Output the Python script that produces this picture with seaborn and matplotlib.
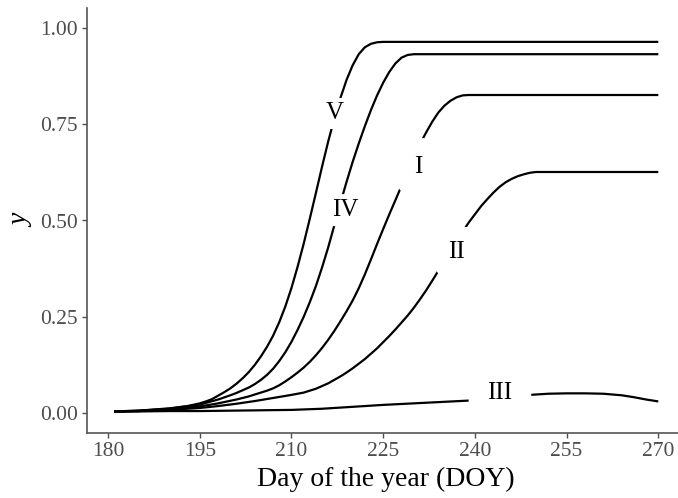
import numpy as np
import pandas as pd
import matplotlib
matplotlib.use("Agg")
import matplotlib.pyplot as plt
import seaborn as sns

# ---- data ----
days_V = [181, 185, 190, 193, 195, 196, 197, 198, 199, 200, 201, 202, 203, 204, 205, 206, 207, 208, 209,
          210, 211, 212, 213, 214, 215, 216, 217, 218, 219, 220, 221, 222, 223, 224, 225, 235, 250, 270]
vals_V = [0.004, 0.006, 0.012, 0.018, 0.025, 0.030, 0.036, 0.045, 0.054, 0.064, 0.076, 0.090, 0.106, 0.125,
          0.147, 0.172, 0.201, 0.236, 0.277, 0.325, 0.380, 0.440, 0.505, 0.572, 0.640, 0.705, 0.765, 0.818,
          0.865, 0.903, 0.932, 0.950, 0.959, 0.963, 0.964, 0.964, 0.964, 0.964]

days_IV = [181, 185, 190, 195, 198, 200, 201, 202, 203, 204, 205, 206, 207, 208, 209, 210, 211, 212, 213,
           214, 215, 216, 217, 218, 219, 220, 221, 222, 223, 224, 225, 226, 227, 228, 229, 230, 240, 255, 270]
vals_IV = [0.004, 0.006, 0.011, 0.022, 0.035, 0.046, 0.052, 0.059, 0.066, 0.075, 0.086, 0.099, 0.115, 0.135,
           0.158, 0.185, 0.216, 0.250, 0.288, 0.330, 0.378, 0.430, 0.487, 0.545, 0.600, 0.652, 0.700, 0.745,
           0.787, 0.825, 0.858, 0.886, 0.908, 0.923, 0.930, 0.932, 0.932, 0.932, 0.932]

days_I = [181, 185, 190, 195, 198, 201, 203, 204, 205, 206, 207, 208, 209, 210, 211, 212, 213, 214, 215, 216,
          217, 218, 219, 220, 221, 222, 223, 224, 225, 226, 227, 228, 229, 230, 231, 232, 233, 234, 235,
          236, 237, 238, 239, 250, 260, 270]
vals_I = [0.004, 0.005, 0.009, 0.017, 0.025, 0.035, 0.043, 0.048, 0.053, 0.058, 0.064, 0.072, 0.082, 0.093,
          0.105, 0.118, 0.133, 0.150, 0.169, 0.190, 0.213, 0.238, 0.264, 0.292, 0.324, 0.360, 0.399, 0.439,
          0.478, 0.516, 0.553, 0.590, 0.628, 0.665, 0.698, 0.728, 0.756, 0.780, 0.798, 0.811, 0.820, 0.825,
          0.826, 0.826, 0.826, 0.826]

days_II = [181, 185, 190, 195, 198, 201, 204, 207, 210, 211, 212, 213, 214, 215, 216, 217, 218, 219, 220,
           221, 222, 223, 224, 225, 226, 227, 228, 229, 230, 231, 232, 233, 234, 235, 236, 237, 238, 239,
           240, 241, 242, 243, 244, 245, 246, 247, 248, 249, 250, 260, 270]
vals_II = [0.004, 0.005, 0.008, 0.013, 0.018, 0.024, 0.031, 0.039, 0.047, 0.050, 0.053, 0.058, 0.063, 0.070,
           0.077, 0.086, 0.095, 0.105, 0.116, 0.128, 0.140, 0.154, 0.168, 0.184, 0.200, 0.217, 0.235, 0.253,
           0.273, 0.295, 0.318, 0.343, 0.369, 0.395, 0.420, 0.446, 0.471, 0.495, 0.516, 0.537, 0.555, 0.572,
           0.587, 0.599, 0.608, 0.615, 0.620, 0.624, 0.626, 0.626, 0.626]

days_III = [181, 185, 190, 195, 200, 205, 210, 215, 220, 225, 230, 235, 240, 243, 246, 249, 252, 255, 258,
            261, 264, 266, 268, 270]
vals_III = [0.004, 0.004, 0.005, 0.005, 0.006, 0.007, 0.008, 0.011, 0.016, 0.021, 0.025, 0.029, 0.033, 0.038,
            0.043, 0.047, 0.050, 0.051, 0.051, 0.050, 0.046, 0.041, 0.035, 0.030]

curve_names = ["V", "IV", "I", "II", "III"]
label_x = [217.1, 218.8, 230.7, 237.0, 244.1]
label_y = [0.778, 0.527, 0.640, 0.419, 0.051]
label_pad = [0.18, 0.2, 0.7, 0.55, 0.75]

x_ticks = [180, 195, 210, 225, 240, 255, 270]
y_ticks = [0.00, 0.25, 0.50, 0.75, 1.00]
y_tick_labels = ["0.00", "0.25", "0.50", "0.75", "1.00"]

# ---- build long table ----
frames = []
for name, d, v in zip(curve_names,
                      [days_V, days_IV, days_I, days_II, days_III],
                      [vals_V, vals_IV, vals_I, vals_II, vals_III]):
    frames.append(pd.DataFrame({"doy": d, "y": v, "curve": name}))
df = pd.concat(frames, ignore_index=True)

sns.set_theme(style="ticks")
plt.rcParams["font.family"] = ["Liberation Serif", "DejaVu Serif"]

fig = plt.figure(figsize=(6.78, 4.98), dpi=100)
# the reference panel runs slightly past the right edge of the image
ax = fig.add_axes([87 / 678, 65 / 498, (685.5 - 87) / 678, (433 - 8) / 498])

sns.lineplot(data=df, x="doy", y="y", hue="curve", units="curve", estimator=None,
             palette={n: "black" for n in curve_names}, legend=False,
             linewidth=1.6, ax=ax)
for ln in ax.get_lines():
    ln.set_solid_joinstyle("round")
    ln.set_solid_capstyle("butt")

for name, lx, ly, pd_ in zip(curve_names, label_x, label_y, label_pad):
    ax.text(lx, ly, name, ha="center", va="center", fontsize=18, color="black",
            zorder=5,
            bbox=dict(boxstyle=f"round,pad={pd_}", facecolor="white", edgecolor="none"))

ax.set_xlim(176.55, 274.45)
ax.set_ylim(-0.052, 1.052)
ax.set_xticks(x_ticks)
ax.set_yticks(y_ticks)
ax.set_yticklabels(y_tick_labels)

ax.tick_params(axis="both", labelsize=15.5, colors="#4D4D4D", length=3.5, width=1, pad=3)
for lab in ax.get_xticklabels() + ax.get_yticklabels():
    lab.set_color("#4D4D4D")

ax.set_xlabel("Day of the year (DOY)", fontsize=20, color="black", labelpad=4)
ax.set_ylabel("y", fontsize=20, color="black", style="italic", labelpad=4)

sns.despine(ax=ax)
for s in ["left", "bottom"]:
    ax.spines[s].set_color("#555555")
    ax.spines[s].set_linewidth(1.2)

fig.savefig("out.png", dpi=100)
